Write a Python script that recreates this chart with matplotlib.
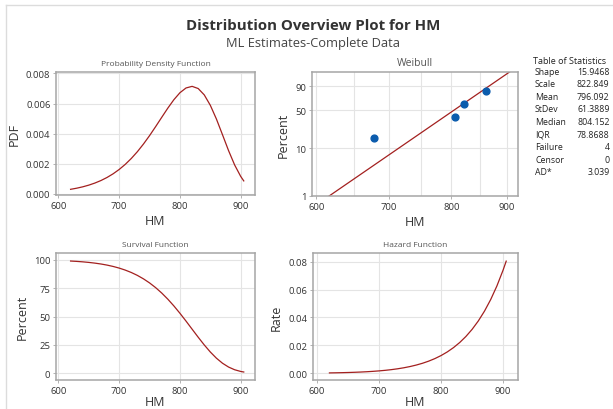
import numpy as np
import matplotlib
matplotlib.use("Agg")
import matplotlib.pyplot as plt
from matplotlib.lines import Line2D
from matplotlib.ticker import FixedLocator, NullFormatter, FuncFormatter

plt.rcParams["font.family"] = ["Open Sans", "DejaVu Sans"]

# fitted curves
hm = [620, 630, 640, 650, 660, 670, 680, 690, 700, 710, 720, 730, 740, 750, 760,
      770, 780, 790, 800, 810, 820, 830, 840, 850, 860, 870, 880, 890, 900, 905]
pdf = [0.000279, 0.000353, 0.000445, 0.000558, 0.000697, 0.000865, 0.001069, 0.001313,
       0.001603, 0.001943, 0.002339, 0.002791, 0.003301, 0.003860, 0.004460, 0.005079,
       0.005690, 0.006254, 0.006720, 0.007036, 0.007143, 0.006998, 0.006574, 0.005878,
       0.004965, 0.003918, 0.002858, 0.001902, 0.001137, 0.000840]
survival = [98.91, 98.60, 98.20, 97.70, 97.07, 96.30, 95.33, 94.14, 92.69, 90.92, 88.79,
            86.23, 83.18, 79.61, 75.45, 70.69, 65.30, 59.32, 52.82, 45.93, 38.82, 31.73,
            24.92, 18.67, 13.24, 8.79, 5.41, 3.04, 1.54, 1.05]
hazard = [0.000282, 0.000358, 0.000453, 0.000571, 0.000718, 0.000898, 0.001121, 0.001394,
          0.001729, 0.002137, 0.002634, 0.003237, 0.003968, 0.004848, 0.005911, 0.007185,
          0.008714, 0.010542, 0.012722, 0.015318, 0.018401, 0.022056, 0.026379, 0.031485,
          0.037498, 0.044571, 0.052874, 0.062605, 0.073986, 0.080370]

# weibull probability plot
obs_hm = [678, 806, 822, 862]
obs_pct = [15.9, 38.6, 61.4, 84.1]
fit_hm = [616.6, 905.5]
fit_pct = [1, 99]

stat_names = ["Shape", "Scale", "Mean", "StDev", "Median", "IQR", "Failure", "Censor", "AD*"]
stat_values = ["15.9468", "822.849", "796.092", "61.3889", "804.152", "78.8688", "4", "0", "3.039"]

line_col = "#a3201f"
grid_col = "#e4e4e4"
spine_col = "#a6a6a6"
text_col = "#333333"

fig = plt.figure(figsize=(6.13, 4.10), dpi=100)
W, H = 613, 410


def box(l, t, r, b):
    return [l / W, 1 - b / H, (r - l) / W, (b - t) / H]


def style(ax, title, tsize=6.0, xpad=3):
    ax.set_title(title, fontsize=tsize, color="#555555", pad=5)
    ax.grid(True, color=grid_col, lw=0.8)
    ax.set_axisbelow(True)
    for s in ax.spines.values():
        s.set_color(spine_col)
        s.set_linewidth(1.1)
    ax.tick_params(labelsize=6.8, colors=text_col, length=2.5, width=0.6, pad=1.5)
    ax.tick_params(which="both", color=spine_col)
    ax.set_xlabel("HM", fontsize=9, color=text_col, labelpad=xpad)


ax1 = fig.add_axes(box(56, 73, 255, 196))
ax1.plot(hm, pdf, color=line_col, lw=0.9)
ax1.set_xlim(596, 923.5)
ax1.set_ylim(-0.0001, 0.0081)
ax1.set_xticks([600, 700, 800, 900])
ax1.set_yticks([0, 0.002, 0.004, 0.006, 0.008])
ax1.yaxis.set_major_formatter(FuncFormatter(lambda v, p: f"{v:.3f}"))
style(ax1, "Probability Density Function")
ax1.set_ylabel("PDF", fontsize=9, color=text_col, labelpad=4)


def fwd(p):
    p = np.clip(np.asarray(p, dtype=float), 1e-6, 100 - 1e-6)
    return np.log(-np.log(1 - p / 100))


def inv(y):
    return 100 * (1 - np.exp(-np.exp(y)))


ax2 = fig.add_axes(box(312, 73, 518, 197))
ax2.plot(fit_hm, fit_pct, color=line_col, lw=0.9)
ax2.scatter(obs_hm, obs_pct, s=24, color="#0b5cad", zorder=3)
ax2.set_xscale("log")
ax2.set_yscale("function", functions=(fwd, inv))
ax2.set_xlim(594.5, 922)
ax2.set_ylim(1, 99)
ax2.xaxis.set_major_locator(FixedLocator([600, 700, 800, 900]))
ax2.xaxis.set_minor_locator(FixedLocator([650, 750, 850]))
ax2.xaxis.set_major_formatter(FuncFormatter(lambda v, p: f"{v:.0f}"))
ax2.xaxis.set_minor_formatter(NullFormatter())
ax2.yaxis.set_major_locator(FixedLocator([1, 10, 50, 90]))
ax2.yaxis.set_minor_locator(FixedLocator([]))
ax2.yaxis.set_major_formatter(FuncFormatter(lambda v, p: f"{v:.0f}"))
style(ax2, "Weibull", tsize=7.5)
ax2.grid(True, which="minor", axis="x", color=grid_col, lw=0.8)
ax2.tick_params(which="minor", length=0)
ax2.set_ylabel("Percent", fontsize=9, color=text_col, labelpad=4)

ax3 = fig.add_axes(box(56, 254, 255, 381))
ax3.plot(hm, survival, color=line_col, lw=0.9)
ax3.set_xlim(596, 923.5)
ax3.set_ylim(-6, 106)
ax3.set_xticks([600, 700, 800, 900])
ax3.set_yticks([0, 25, 50, 75, 100])
style(ax3, "Survival Function", xpad=0.5)
ax3.set_ylabel("Percent", fontsize=9, color=text_col, labelpad=4)

ax4 = fig.add_axes(box(313, 254, 518, 381))
ax4.plot(hm, hazard, color=line_col, lw=0.9)
ax4.set_xlim(593.5, 924)
ax4.set_ylim(-0.0048, 0.0862)
ax4.set_xticks([600, 700, 800, 900])
ax4.set_yticks([0, 0.02, 0.04, 0.06, 0.08])
ax4.yaxis.set_major_formatter(FuncFormatter(lambda v, p: f"{v:.2f}"))
style(ax4, "Hazard Function", xpad=0.5)
ax4.set_ylabel("Rate", fontsize=9, color=text_col, labelpad=4)

fig.text(313 / W, 1 - 26 / H, "Distribution Overview Plot for HM", ha="center", va="center",
         fontsize=10.8, fontweight="bold", color=text_col)
fig.text(313 / W, 1 - 43 / H, "ML Estimates-Complete Data", ha="center", va="center",
         fontsize=9.3, color="#444444")

fig.text(570 / W, 1 - 61 / H, "Table of Statistics", ha="center", va="center",
         fontsize=6.5, color="#222222")
for i, (n, v) in enumerate(zip(stat_names, stat_values)):
    y = 1 - (72.3 + i * 12.55) / H
    fig.text(535 / W, y, n, ha="left", va="center", fontsize=6.3, color="#222222")
    fig.text(609.5 / W, y, v, ha="right", va="center", fontsize=6.3, color="#222222")

fig.add_artist(Line2D([6 / W, 1], [1 - 5.5 / H, 1 - 5.5 / H], color="#dcdcdc", lw=1.0))
fig.add_artist(Line2D([6 / W, 6 / W], [0, 1 - 5.5 / H], color="#dcdcdc", lw=1.0))

fig.savefig("out.png", dpi=100)
